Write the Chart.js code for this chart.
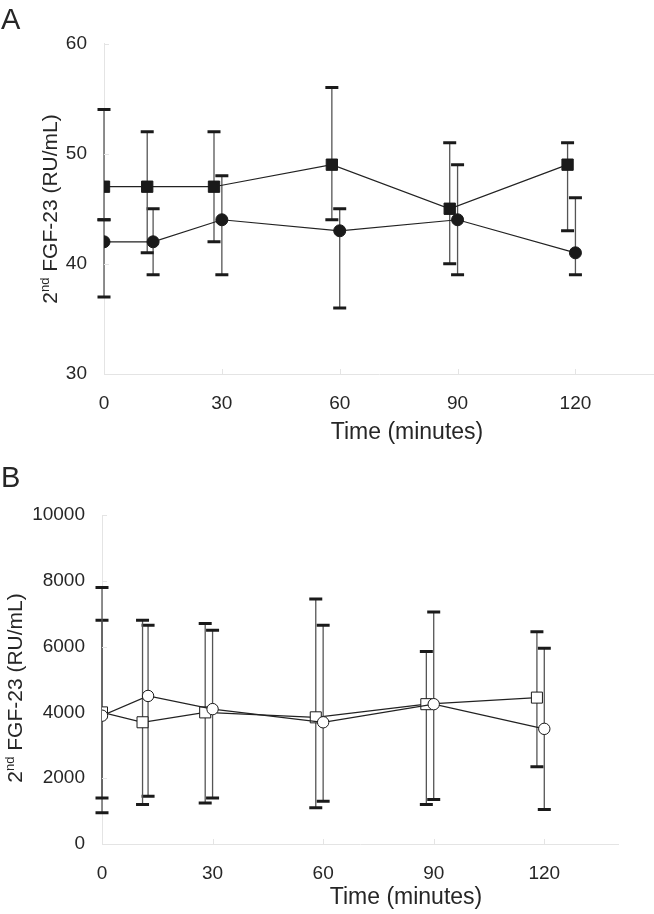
<!DOCTYPE html>
<html>
<head>
<meta charset="utf-8">
<script src="https://cdn.jsdelivr.net/npm/chart.js@4"></script>
<style>
  html, body { margin: 0; padding: 0; background: #fff; }
  #wrap { position: relative; width: 654px; height: 914px; }
  canvas { position: absolute; left: 0; }
  #chartA { top: 0; }
  #chartB { top: 460px; }
</style>
</head>
<body>
<div id="wrap">
  <canvas id="chartA" width="654" height="460"></canvas>
  <canvas id="chartB" width="654" height="454"></canvas>
</div>
<script>
const FONT = "'Liberation Sans', Arial, Helvetica, sans-serif";
const TEXT = "#262626";
const AXIS = "#e4e4e4";
const X_TITLE = "Time (minutes)";

// panel A (filled markers)
const aCircleX = [0, 12.5, 30, 60, 90, 120];
const aCircleY = [42, 42, 44, 43, 44, 41];
const aCircleHi = [44, 45, 48, 45, 49, 46];
const aCircleLo = [37, 39, 39, 36, 39, 39];
const aSquareX = [0, 11, 28, 58, 88, 118];
const aSquareY = [47, 47, 47, 49, 45, 49];
const aSquareHi = [54, 52, 52, 56, 51, 51];
const aSquareLo = [44, 41, 42, 44, 40, 43];

// panel B (open markers)
const bCircleX = [0, 12.5, 30, 60, 90, 120];
const bCircleY = [3900, 4500, 4100, 3700, 4250, 3500];
const bCircleHi = [6800, 6650, 6500, 6650, 7050, 5950];
const bCircleLo = [950, 1450, 1400, 1300, 1350, 1050];
const bSquareX = [0, 11, 28, 58, 88, 118];
const bSquareY = [4000, 3700, 4000, 3850, 4250, 4450];
const bSquareHi = [7800, 6800, 6700, 7450, 5850, 6450];
const bSquareLo = [1400, 1200, 1250, 1100, 1200, 2350];

const toPoints = (xs, ys) => xs.map((x, i) => ({ x, y: ys[i] }));

const errorBars = {
  id: "errorBars",
  beforeDatasetsDraw(chart) {
    const { ctx, scales: { x, y } } = chart;
    ctx.save();
    for (const ds of chart.data.datasets) {
      ds.data.forEach((p, i) => {
        const px = x.getPixelForValue(p.x);
        const top = y.getPixelForValue(ds.errHi[i]);
        const bot = y.getPixelForValue(ds.errLo[i]);
        ctx.strokeStyle = "#555";
        ctx.lineWidth = 1.3;
        ctx.beginPath();
        ctx.moveTo(px, top);
        ctx.lineTo(px, bot);
        ctx.stroke();
        ctx.strokeStyle = "#1a1a1a";
        ctx.lineWidth = 3;
        ctx.beginPath();
        ctx.moveTo(px - 6.5, top); ctx.lineTo(px + 6.5, top);
        ctx.moveTo(px - 6.5, bot); ctx.lineTo(px + 6.5, bot);
        ctx.stroke();
      });
    }
    ctx.restore();
  }
};

const decor = {
  id: "decor",
  beforeDatasetsDraw(chart) {
    // small inward tick marks
    const { ctx, chartArea: a, scales: { x, y } } = chart;
    ctx.save();
    ctx.strokeStyle = AXIS;
    ctx.lineWidth = 1;
    ctx.beginPath();
    for (const t of y.ticks) {
      const py = Math.round(y.getPixelForValue(t.value)) + 0.5;
      ctx.moveTo(a.left, py); ctx.lineTo(a.left + 5, py);
    }
    for (const t of x.ticks) {
      const px = Math.round(x.getPixelForValue(t.value)) + 0.5;
      ctx.moveTo(px, a.bottom); ctx.lineTo(px, a.bottom - 5);
    }
    ctx.stroke();
    ctx.restore();
  },
  afterDraw(chart, args, opts) {
    const ctx = chart.ctx;
    ctx.save();
    ctx.fillStyle = TEXT;
    // panel letter
    ctx.font = "29px " + FONT;
    ctx.textAlign = "left";
    ctx.textBaseline = "alphabetic";
    ctx.fillText(opts.letter, 1, opts.letterY);
    // x title
    ctx.font = "23px " + FONT;
    ctx.textAlign = "center";
    ctx.textBaseline = "middle";
    ctx.fillText(X_TITLE, opts.xTitleX, opts.xTitleY);
    // y title with superscript
    const big = "21px " + FONT, small = "13px " + FONT;
    const parts = [["2", big, 0], ["nd", small, -8], [" FGF-23 (RU/mL)", big, 0]];
    let total = 0;
    for (const [s, f] of parts) { ctx.font = f; total += ctx.measureText(s).width; }
    ctx.translate(opts.yTitleX, opts.yTitleY);
    ctx.rotate(-Math.PI / 2);
    ctx.textAlign = "left";
    ctx.textBaseline = "alphabetic";
    let cx = -total / 2;
    for (const [s, f, dy] of parts) {
      ctx.font = f;
      ctx.fillText(s, cx, dy);
      cx += ctx.measureText(s).width;
    }
    ctx.restore();
  }
};

function makeChart(id, cfg) {
  return new Chart(document.getElementById(id), {
    type: "scatter",
    data: {
      datasets: [
        {
          data: toPoints(cfg.circleX, cfg.circleY),
          errHi: cfg.circleHi,
          errLo: cfg.circleLo,
          showLine: true,
          borderColor: "#222",
          borderWidth: 1.2,
          pointStyle: "circle",
          pointRadius: cfg.circleR,
          pointBackgroundColor: cfg.fill,
          pointBorderColor: "#1a1a1a",
          pointBorderWidth: 1
        },
        {
          data: toPoints(cfg.squareX, cfg.squareY),
          errHi: cfg.squareHi,
          errLo: cfg.squareLo,
          showLine: true,
          borderColor: "#222",
          borderWidth: 1.2,
          pointStyle: "rect",
          pointRadius: cfg.squareR,
          pointBackgroundColor: cfg.fill,
          pointBorderColor: "#1a1a1a",
          pointBorderWidth: 1
        }
      ]
    },
    options: {
      responsive: false,
      animation: false,
      devicePixelRatio: 1,
      layout: {
        autoPadding: false,
        padding: { top: cfg.padTop, right: cfg.padRight, bottom: 0, left: 0 }
      },
      plugins: {
        legend: { display: false },
        tooltip: { enabled: false },
        decor: cfg.decor
      },
      scales: {
        x: {
          type: "linear",
          min: 0,
          max: 140,
          afterBuildTicks: (s) => { s.ticks = s.ticks.filter((t) => t.value % 30 === 0); },
          afterFit: (s) => { s.height = cfg.xHeight; s.paddingLeft = 0; s.paddingRight = 0; },
          ticks: { stepSize: 30, padding: 18, color: TEXT, font: { family: FONT, size: 19 } },
          grid: { display: false, drawTicks: false },
          border: { color: AXIS, width: 1 }
        },
        y: {
          min: cfg.yMin,
          max: cfg.yMax,
          afterFit: (s) => { s.width = cfg.yWidth; s.paddingTop = 0; s.paddingBottom = 0; },
          ticks: {
            stepSize: cfg.yStep,
            padding: 17,
            color: TEXT,
            font: { family: FONT, size: 19 },
            callback: (v) => String(v)
          },
          grid: { display: false, drawTicks: false },
          border: { color: AXIS, width: 1 }
        }
      }
    },
    plugins: [errorBars, decor]
  });
}

makeChart("chartA", {
  circleX: aCircleX, circleY: aCircleY, circleHi: aCircleHi, circleLo: aCircleLo,
  squareX: aSquareX, squareY: aSquareY, squareHi: aSquareHi, squareLo: aSquareLo,
  fill: "#1a1a1a", circleR: 6, squareR: 8,
  yMin: 30, yMax: 60, yStep: 10,
  padTop: 43.5, padRight: 0, xHeight: 86, yWidth: 104,
  decor: { letter: "A", letterY: 29, xTitleX: 407, xTitleY: 433, yTitleX: 57, yTitleY: 209 }
});

makeChart("chartB", {
  circleX: bCircleX, circleY: bCircleY, circleHi: bCircleHi, circleLo: bCircleLo,
  squareX: bSquareX, squareY: bSquareY, squareHi: bSquareHi, squareLo: bSquareLo,
  fill: "#ffffff", circleR: 5.7, squareR: 7.8,
  yMin: 0, yMax: 10000, yStep: 2000,
  padTop: 55, padRight: 36, xHeight: 70, yWidth: 102,
  decor: { letter: "B", letterY: 27, xTitleX: 406, xTitleY: 438, yTitleX: 22, yTitleY: 228 }
});
</script>
</body>
</html>
